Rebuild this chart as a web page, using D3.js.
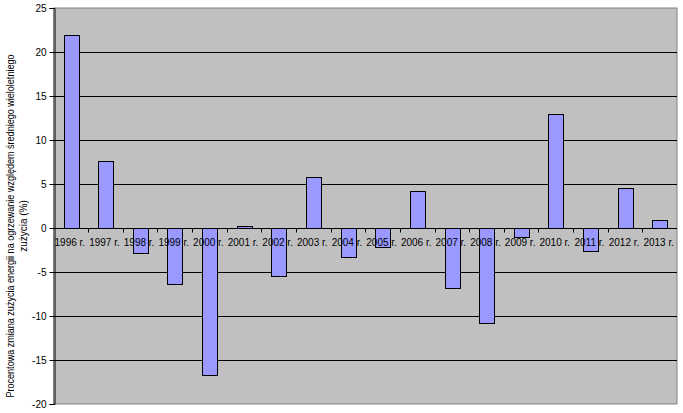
<!DOCTYPE html>
<html><head><meta charset="utf-8">
<script src="https://cdn.jsdelivr.net/npm/d3@7"></script>
<style>body{margin:0;background:#fff;}svg{display:block;}text{font-family:Arial,"Liberation Sans",sans-serif;fill:#000;}</style>
</head><body>
<svg id="c" width="683" height="413"></svg>
<script>
const categories = ["1996 r.","1997 r.","1998 r.","1999 r.","2000 r.","2001 r.","2002 r.","2003 r.","2004 r.","2005 r.","2006 r.","2007 r.","2008 r.","2009 r.","2010 r.","2011 r.","2012 r.","2013 r."];
const values = [21.9, 7.65, -2.8, -6.4, -16.7, 0.25, -5.4, 5.75, -3.3, -2.2, 4.2, -6.85, -10.8, -1.0, 13.0, -2.6, 4.6, 0.9];
const yTicks = [25, 20, 15, 10, 5, 0, -5, -10, -15, -20];
const yTitle1 = "Procentowa zmiana zużycia energii na ogrzewanie względem średniego wieloletniego";
const yTitle2 = "zużycia (%)";

const svg = d3.select("#c");
const L = 53.5, R = 677, T = 8, B = 404;
const x = d3.scaleBand().domain(categories).range([L, R]).padding(0);
const y = d3.scaleLinear().domain([-20, 25]).range([B, T]);

svg.append("rect").attr("x", L).attr("y", T).attr("width", R - L).attr("height", B - T)
  .attr("fill", "#C0C0C0").attr("stroke", "#808080").attr("stroke-width", 1);

// gridlines
svg.append("g").selectAll("line").data(yTicks.filter(d => d !== -20 && d !== 25)).join("line")
  .attr("x1", L).attr("x2", R).attr("y1", d => Math.round(y(d)) + 0.5).attr("y2", d => Math.round(y(d)) + 0.5)
  .attr("stroke", "#000").attr("stroke-width", 1);

// bars
const bw = x.bandwidth() * 0.42;
svg.append("g").selectAll("rect").data(values).join("rect")
  .attr("x", (d, i) => Math.round(x(categories[i]) + x.bandwidth() / 2 - bw / 2) + 0.5)
  .attr("width", Math.round(bw))
  .attr("y", d => Math.round(y(Math.max(0, d))) + 0.5)
  .attr("height", d => Math.max(1, Math.round(Math.abs(y(d) - y(0)))))
  .attr("fill", "#9999FF").attr("stroke", "#000").attr("stroke-width", 1);

// y axis
const yAxis = d3.axisLeft(y).tickValues(yTicks).tickSize(5).tickPadding(3).tickFormat(d => String(d));
const gy = svg.append("g").attr("transform", `translate(${Math.round(L)+0.5},0)`).call(yAxis);
gy.select(".domain").attr("stroke", "#000");
gy.selectAll(".tick line").attr("stroke", "#000");
gy.selectAll("text").attr("font-size", 10).attr("font-family", "Arial, Liberation Sans, sans-serif");

// x axis at zero
const y0 = Math.round(y(0)) + 0.5;
svg.append("line").attr("x1", L).attr("x2", R).attr("y1", y0).attr("y2", y0).attr("stroke", "#000");
svg.append("g").selectAll("line").data(categories.slice(1)).join("line")
  .attr("x1", d => Math.round(x(d)) + 0.5).attr("x2", d => Math.round(x(d)) + 0.5)
  .attr("y1", y0).attr("y2", y0 + 4).attr("stroke", "#000");
svg.append("g").selectAll("text").data(categories).join("text")
  .attr("x", d => x(d) + x.bandwidth() / 2 - 1)
  .attr("y", y0 + 17)
  .attr("text-anchor", "middle").attr("font-size", 10).text(d => d);

// y title
const cy = 226;
svg.append("text").attr("transform", `translate(14,${cy}) rotate(-90)`)
  .attr("text-anchor", "middle").attr("font-size", 10)
  .attr("textLength", 343).attr("lengthAdjust", "spacingAndGlyphs").text(yTitle1);
svg.append("text").attr("transform", `translate(27,${cy}) rotate(-90)`)
  .attr("text-anchor", "middle").attr("font-size", 10).text(yTitle2);
</script>
</body></html>
